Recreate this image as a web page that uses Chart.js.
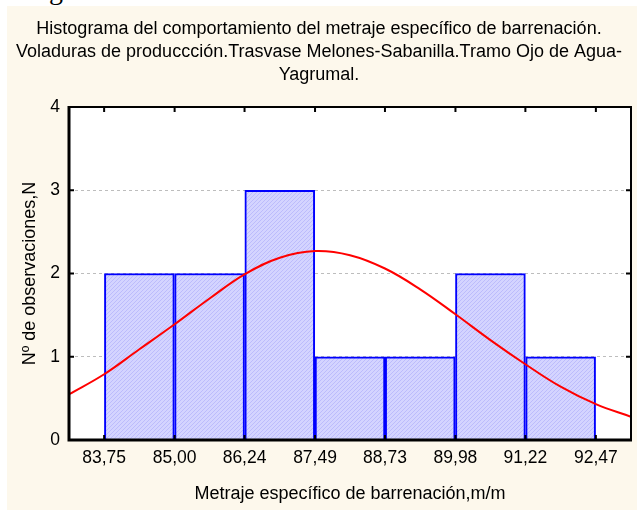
<!DOCTYPE html>
<html>
<head>
<meta charset="utf-8">
<script src="https://cdn.jsdelivr.net/npm/chart.js@4.4.1/dist/chart.umd.min.js"></script>
<style>
  html, body { margin: 0; padding: 0; background: #ffffff; width: 637px; height: 510px; overflow: hidden; }
  #frag { position: absolute; left: 49px; top: -24px; font: 28px/28px "Liberation Serif", serif; color: #000; }
  #wrap { position: absolute; left: 7px; top: 6px; width: 630px; height: 504px; }
</style>
</head>
<body>
<div id="frag">g</div>
<div id="wrap"><canvas id="c" width="630" height="504"></canvas></div>
<script>
// ---- data ----
const titleLines = [
  'Histograma del comportamiento del metraje específico de barrenación.',
  'Voladuras de produccción.Trasvase Melones-Sabanilla.Tramo Ojo de Agua-',
  'Yagrumal.'
];
const xTitle = 'Metraje específico de barrenación,m/m';
const yTitle = 'Nº de observaciones,N';
const binEdges = [83.75, 85.00, 86.24, 87.49, 88.73, 89.98, 91.22, 92.47];
const xTickLabels = ['83,75', '85,00', '86,24', '87,49', '88,73', '89,98', '91,22', '92,47'];
const counts = [2, 2, 3, 1, 1, 2, 1];
const yTicks = [0, 1, 2, 3, 4];
// normal fit curve
const curveX = [83.13, 83.75, 84.375, 85.00, 85.62, 86.24, 86.865, 87.49, 88.11, 88.73, 89.355, 89.98, 90.60, 91.22, 91.845, 92.47, 93.09];
const curveY = [0.55, 0.79, 1.09, 1.39, 1.70, 1.99, 2.19, 2.27, 2.22, 2.06, 1.81, 1.51, 1.20, 0.91, 0.64, 0.43, 0.28];

// ---- derived ----
const binW = (binEdges[binEdges.length - 1] - binEdges[0]) / (binEdges.length - 1);
const xMin = binEdges[0] - binW / 2;
const xMax = binEdges[binEdges.length - 1] + binW / 2;
const barData = counts.map((c, i) => ({ x: (binEdges[i] + binEdges[i + 1]) / 2, y: c }));
const curveData = curveX.map((x, i) => ({ x: x, y: curveY[i] }));

// hatch pattern for the bars
function makePattern() {
  const p = document.createElement('canvas');
  p.width = 4; p.height = 4;
  const g = p.getContext('2d');
  g.fillStyle = 'rgb(212,212,255)';
  g.fillRect(0, 0, 4, 4);
  g.fillStyle = 'rgb(188,188,252)';
  for (let i = 0; i < 4; i++) g.fillRect(i, 3 - i, 1, 1);
  return g.createPattern(p, 'repeat');
}

const FONT = '"Liberation Sans", Arial, sans-serif';

const bgPlugin = {
  id: 'bg',
  beforeDraw(chart) {
    const ctx = chart.ctx;
    ctx.save();
    ctx.fillStyle = '#fdf8ec';
    ctx.fillRect(0, 0, chart.width, chart.height);
    const a = chart.chartArea;
    ctx.fillStyle = '#ffffff';
    ctx.fillRect(a.left, a.top, a.right - a.left, a.bottom - a.top);
    ctx.restore();
  }
};

const framePlugin = {
  id: 'frame',
  afterDraw(chart) {
    const ctx = chart.ctx;
    const a = chart.chartArea;
    const xs = chart.scales.x, ys = chart.scales.y;
    ctx.save();
    ctx.strokeStyle = '#000';
    ctx.lineWidth = 2;
    ctx.strokeRect(a.left, a.top, a.right - a.left, a.bottom - a.top);
    ctx.lineWidth = 3;
    ctx.beginPath();
    ctx.moveTo(a.left, a.top - 1); ctx.lineTo(a.left, a.bottom + 1.5);
    ctx.moveTo(a.left - 1.5, a.bottom); ctx.lineTo(a.right + 1, a.bottom);
    ctx.stroke();
    ctx.lineWidth = 2;
    ctx.beginPath();
    const tl = 5;
    yTicks.forEach(v => {
      const y = ys.getPixelForValue(v);
      ctx.moveTo(a.left, y); ctx.lineTo(a.left + tl, y);
      ctx.moveTo(a.right, y); ctx.lineTo(a.right - tl, y);
    });
    binEdges.forEach(v => {
      const x = xs.getPixelForValue(v);
      ctx.moveTo(x, a.top); ctx.lineTo(x, a.top + tl);
      ctx.moveTo(x, a.bottom); ctx.lineTo(x, a.bottom - tl);
    });
    ctx.stroke();
    ctx.restore();
  }
};

new Chart(document.getElementById('c'), {
  type: 'bar',
  data: {
    datasets: [
      {
        type: 'line',
        data: curveData,
        borderColor: '#ff0000',
        borderWidth: 2,
        pointRadius: 0,
        tension: 0.4,
        fill: false,
        order: 0
      },
      {
        type: 'bar',
        data: barData,
        backgroundColor: makePattern(),
        borderColor: '#0000ff',
        borderWidth: 2,
        barPercentage: 1,
        categoryPercentage: 1,
        order: 1
      }
    ]
  },
  plugins: [bgPlugin, framePlugin],
  options: {
    responsive: false,
    animation: false,
    events: [],
    layout: { padding: { left: 0, right: 6, top: 0, bottom: 0 } },
    plugins: {
      legend: { display: false },
      tooltip: { enabled: false },
      title: {
        display: true,
        text: titleLines,
        color: '#000',
        font: { family: FONT, size: 18, weight: 'normal', lineHeight: 23 / 18 },
        padding: { top: 11.5, bottom: 20.5 }
      }
    },
    scales: {
      x: {
        type: 'linear',
        min: xMin,
        max: xMax,
        offset: false,
        grid: { display: false, drawTicks: false },
        border: { display: false },
        afterBuildTicks(scale) { scale.ticks = binEdges.map(v => ({ value: v })); },
        afterFit(scale) { scale.height = 70; },
        ticks: {
          autoSkip: false,
          maxRotation: 0,
          padding: 8,
          color: '#000',
          font: { family: FONT, size: 17.5 },
          callback(value, index) { return xTickLabels[index]; }
        },
        title: {
          display: true,
          text: xTitle,
          color: '#000',
          font: { family: FONT, size: 18 },
          padding: { top: 0, bottom: 5.5 }
        }
      },
      y: {
        min: 0,
        max: 4,
        grid: { color: '#bdbdbd', lineWidth: 1, drawTicks: false },
        border: { display: false, dash: [3, 3] },
        afterFit(scale) { scale.width = 62; },
        afterBuildTicks(scale) { scale.ticks = yTicks.map(v => ({ value: v })); },
        ticks: {
          padding: 9,
          color: '#000',
          font: { family: FONT, size: 17.5 }
        },
        title: {
          display: true,
          text: yTitle,
          color: '#000',
          font: { family: FONT, size: 18 },
          padding: { top: 12.5, bottom: 0 }
        }
      }
    }
  }
});
</script>
</body>
</html>
